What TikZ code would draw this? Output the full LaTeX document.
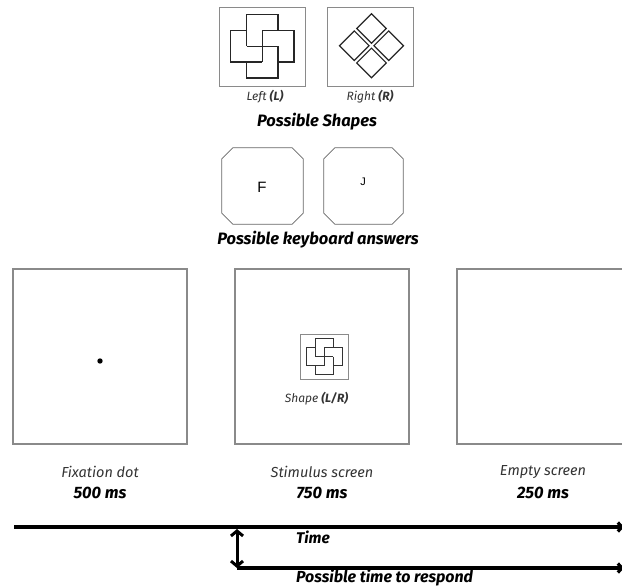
\documentclass[tikz,border=0pt]{standalone}
\usepackage{fontspec}
\setmainfont{Fira Sans}
\newfontfamily\keyfont{Liberation Sans}
\usetikzlibrary{arrows.meta}
\definecolor{framegray}{HTML}{8A8A8A}
\definecolor{txtgray}{HTML}{333333}
\begin{document}
\begin{tikzpicture}[x=1pt,y=-1pt,
  shapebox/.style={draw=framegray, line width=1pt, minimum width=86pt, minimum height=79pt, inner sep=0pt},
  minibox/.style={draw=framegray, line width=0.9pt, minimum width=48pt, minimum height=45pt, inner sep=0pt},
  screen/.style={draw=framegray, line width=1.1pt, minimum width=174pt, minimum height=175pt, inner sep=0pt},
  keyanchor/.style={minimum width=#1, minimum height=76pt, inner sep=0pt},
  keyline/.style={draw=black!60, line width=0.8pt},
  figline/.style={draw=black!85, line width=1.3pt},
  minifig/.style={draw=black!80, line width=0.8pt},
  lighttext/.style={font=\fontsize{12}{14}\selectfont\itshape, text=txtgray, inner sep=1pt},
  captext/.style={font=\fontsize{14.5}{17}\selectfont\itshape, text=txtgray, inner sep=1pt},
  heavytext/.style={font=\fontsize{16.5}{19}\selectfont\bfseries\itshape, text=black, inner sep=1pt},
  timeline/.style={line width=3.2pt, draw=black},
  pinwheel/.pic={
    \draw[pic actions] (-1,-2) -- (1,-2) -- (1,-1) -- (2,-1) -- (2,1) -- (1,1) -- (1,2) -- (-1,2) -- (-1,1) -- (-2,1) -- (-2,-1) -- (-1,-1) -- cycle;
    \draw[pic actions] (0,-1) -- (0,1) (-1,0) -- (1,0);
    \draw[pic actions] (-1,-1) -- (-1,0) (0,-1) -- (1,-1) (1,0) -- (1,1) (-1,1) -- (0,1);
  }
]
\useasboundingbox (0,0) rectangle (622,587);

% ---------- possible shapes ----------
\node[shapebox] (lbox) at (262,46.5) {};
\node[shapebox] (rbox) at (370,46.5) {};
\pic[figline, scale=15.8] at (262.3,46.3) {pinwheel};
\coordinate (dc) at (371.5,45.7);
\foreach \dx/\dy in {0/-17.2, 17.2/0, 0/17.2, -17.2/0}{
  \draw[figline, line width=1.2pt, line join=miter] ([shift={(\dx,\dy)}]dc) ++(0,-14.8) -- ++(14.8,14.8) -- ++(-14.8,14.8) -- ++(-14.8,-14.8) -- cycle;
}
\node[lighttext] (lleft) at (265,97) {Left \textbf{(L)}};
\node[lighttext] (lright) at (370,97) {Right \textbf{(R)}};
\node[heavytext] (pshapes) at (317,122) {Possible Shapes};

% ---------- keys ----------
\node[keyanchor=81pt] (kF) at (262.5,186) {};
\node[keyanchor=79pt] (kJ) at (363.5,186) {};
\foreach \k in {kF,kJ}{
  \draw[keyline] ([xshift=11pt]\k.north west) -- ([xshift=-11pt]\k.north east) -- ([yshift=-11pt]\k.north east)
    -- ([yshift=11pt]\k.south east) -- ([xshift=-11pt]\k.south east) -- ([xshift=11pt]\k.south west)
    -- ([yshift=11pt]\k.south west) -- ([yshift=-11pt]\k.north west) -- cycle;
}
\node[font=\keyfont\fontsize{15}{17}\selectfont, inner sep=0pt] (fletter) at (262,187) {F};
\node[font=\keyfont\fontsize{11}{13}\selectfont, inner sep=0pt] (jletter) at (363,182) {J};
\node[heavytext] (pkeys) at (318,240) {Possible keyboard answers};

% ---------- screens ----------
\node[screen] (s1) at (100,356.5) {};
\node[screen] (s2) at (322,356.5) {};
\node[screen] (s3) at (544,356.5) {};
\fill[black] (s1.center) ++(0,4.5) circle (2.7pt);
\node[minibox] (mbox) at (324,356.5) {};
\pic[minifig, scale=9] at (324.3,356.7) {pinwheel};
\node[lighttext] (shapelbl) at (316.5,399) {Shape \textbf{(L/R)}};

\node[captext] (c1) at (100,472) {Fixation dot};
\node[heavytext] (d1) at (100,493) {500 ms};
\node[captext] (c2) at (322,472) {Stimulus screen};
\node[heavytext] (d2) at (322,493) {750 ms};
\node[captext] (c3) at (543,472) {Empty screen};
\node[heavytext] (d3) at (543,493) {250 ms};

% ---------- timelines ----------
\coordinate (t0) at (14,527);
\coordinate (t1) at (624,527);
\coordinate (a1) at (237,529);
\coordinate (a2) at (237,568);
\coordinate (b1) at (624,568);
\draw[timeline, -{Straight Barb[length=4pt,width=9pt]}] (t0) -- (t1);
\draw[timeline, -{Straight Barb[length=4pt,width=9pt]}] (a2) -- (b1);
\draw[line width=3pt, {Straight Barb[length=5pt,width=12pt]}-{Straight Barb[length=5pt,width=12pt]}] (a1) -- (a2);
\node[heavytext, font=\fontsize{15.5}{18}\selectfont\bfseries\itshape, anchor=west] (tlbl) at (295,537) {Time};
\node[heavytext, font=\fontsize{16}{19}\selectfont\bfseries\itshape, anchor=west] (plbl) at (295,578) {Possible time to respond};
\end{tikzpicture}
\end{document}
